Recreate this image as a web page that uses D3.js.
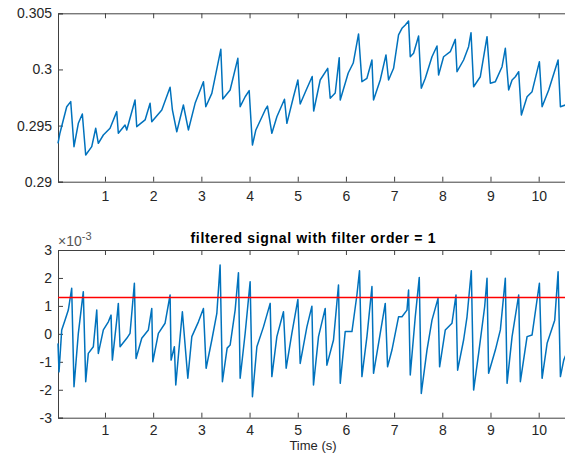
<!DOCTYPE html>
<html>
<head>
<meta charset="utf-8">
<script src="https://cdn.jsdelivr.net/npm/d3@7"></script>
<style>
  body { margin: 0; background: #fff; }
  svg text { font-family: "Liberation Sans", Arial, sans-serif; fill: #262626; }
  .axis path, .axis line { stroke: #404040; }
</style>
</head>
<body>
<div id="chart"></div>
<script>
// raw signal (top panel)
var rawTime = [0.025, 0.066, 0.206, 0.289, 0.357, 0.447, 0.530, 0.600, 0.725, 0.808, 0.862, 0.966, 1.105, 1.244, 1.277, 1.416, 1.452, 1.624, 1.659, 1.832,
  1.936, 1.971, 2.179, 2.351, 2.399, 2.490, 2.627, 2.731, 2.870, 3.043, 3.092, 3.217, 3.404, 3.445, 3.597, 3.757, 3.805, 3.909, 3.992, 4.060,
  4.131, 4.324, 4.372, 4.463, 4.567, 4.725, 4.775, 4.912, 5.003, 5.051, 5.176, 5.300, 5.331, 5.466, 5.622, 5.674, 5.778, 5.861, 5.882, 6.048,
  6.152, 6.262, 6.332, 6.436, 6.540, 6.573, 6.712, 6.831, 6.885, 6.989, 7.092, 7.163, 7.232, 7.300, 7.335, 7.404, 7.508, 7.564, 7.647, 7.786,
  7.890, 7.923, 8.027, 8.166, 8.270, 8.305, 8.442, 8.546, 8.596, 8.650, 8.789, 8.928, 8.997, 9.101, 9.240, 9.308, 9.377, 9.448, 9.516, 9.585,
  9.641, 9.759, 9.863, 10.015, 10.071, 10.208, 10.403, 10.451, 10.555, 10.65];
var rawValue = [0.29342, 0.29434, 0.29668, 0.29713, 0.29312, 0.29520, 0.29603, 0.29238, 0.29312, 0.29476, 0.29342, 0.29416, 0.29476, 0.29624, 0.29431, 0.29505, 0.29461, 0.29728, 0.29490, 0.29550,
  0.29698, 0.29534, 0.29639, 0.29841, 0.29639, 0.29445, 0.29683, 0.29461, 0.29698, 0.29891, 0.29668, 0.29787, 0.30179, 0.29737, 0.29817, 0.30099, 0.29668, 0.29757, 0.29811, 0.29327,
  0.29461, 0.29639, 0.29674, 0.29431, 0.29579, 0.29734, 0.29520, 0.29757, 0.29906, 0.29692, 0.29817, 0.29937, 0.29630, 0.29906, 0.30010, 0.29743, 0.29790, 0.30105, 0.29728, 0.29968,
  0.30057, 0.30316, 0.29891, 0.29921, 0.30084, 0.29728, 0.29906, 0.30129, 0.29906, 0.30010, 0.30307, 0.30366, 0.30396, 0.30431, 0.30113, 0.30144, 0.30298, 0.29832, 0.29921, 0.30113,
  0.30209, 0.29950, 0.30113, 0.30158, 0.30268, 0.29980, 0.30084, 0.30203, 0.30327, 0.29846, 0.29935, 0.30292, 0.29877, 0.29891, 0.30024, 0.30188, 0.29817, 0.29906, 0.29935, 0.29980,
  0.29594, 0.29757, 0.29802, 0.30069, 0.29668, 0.29817, 0.30084, 0.29668, 0.29683, 0.29700];

// filtered signal (bottom panel), in units of 1e-3
var filtTime = [0.025, 0.046, 0.102, 0.170, 0.239, 0.309, 0.357, 0.447, 0.550, 0.600, 0.654, 0.758, 0.829, 0.862, 0.966, 1.070, 1.126, 1.153, 1.244, 1.277,
  1.313, 1.452, 1.520, 1.610, 1.645, 1.763, 1.900, 1.971, 1.992, 2.108, 2.247, 2.351, 2.372, 2.440, 2.469, 2.559, 2.606, 2.719, 2.802, 2.939,
  3.043, 3.099, 3.217, 3.321, 3.389, 3.437, 3.535, 3.597, 3.701, 3.770, 3.805, 3.909, 4.012, 4.060, 4.152, 4.289, 4.428, 4.463, 4.567, 4.704,
  4.760, 4.878, 5.003, 5.051, 5.190, 5.294, 5.327, 5.431, 5.570, 5.605, 5.742, 5.846, 5.882, 5.985, 6.125, 6.228, 6.282, 6.332, 6.436, 6.540,
  6.573, 6.712, 6.816, 6.864, 6.955, 7.092, 7.163, 7.267, 7.300, 7.335, 7.439, 7.522, 7.564, 7.682, 7.786, 7.911, 7.944, 8.062, 8.201, 8.284,
  8.318, 8.442, 8.513, 8.602, 8.650, 8.754, 8.879, 8.928, 8.961, 9.101, 9.205, 9.308, 9.344, 9.448, 9.585, 9.620, 9.759, 9.863, 10.015, 10.071,
  10.175, 10.333, 10.403, 10.451, 10.520, 10.65];
var filtValue = [-0.34, -1.36, 0.14, 0.49, 0.85, 1.63, -1.89, 0.02, 1.51, -1.71, -0.70, -0.46, 0.85, -0.70, 0.14, 0.43, 0.67, -0.94, 0.49, 1.09,
  -0.46, -0.16, 0.02, 1.81, -0.88, -0.16, 0.14, 0.91, -1.00, 0.02, 0.38, 1.39, -0.94, -0.46, -1.83, -0.10, 0.79, -1.59, -0.10, 0.43,
  0.91, -1.23, -0.22, 0.73, 2.46, -1.71, -0.51, -0.40, 0.85, 2.19, -1.59, 0.02, 1.86, -2.25, -0.46, 0.25, 1.09, -1.53, -0.10, 0.79,
  -1.23, 0.02, 1.23, -1.06, 0.25, 0.99, -1.83, -0.10, 0.91, -1.12, -0.22, 1.75, -1.77, 0.08, 0.08, 1.39, 2.26, -1.53, -0.10, 1.69,
  -1.41, 0.02, 1.09, -1.18, -0.58, 0.61, 0.61, 0.85, 1.57, -1.47, 0.61, 2.02, -2.13, -0.58, 0.49, 1.27, -1.18, 0.14, 0.38, 1.39,
  -1.30, -0.22, 0.61, 2.26, -2.01, -0.70, 0.97, 1.99, -1.41, -0.58, 0.14, 1.99, -1.77, -0.10, 1.39, -1.71, -0.10, -0.04, 1.81, -1.59,
  -0.34, 0.49, 2.22, -1.53, -0.94, -0.40];
var thresholdLevel = 1.3;

var xTicks = [1, 2, 3, 4, 5, 6, 7, 8, 9, 10];
var rawTicks = [0.29, 0.295, 0.3, 0.305];
var rawTickLabels = ["0.29", "0.295", "0.3", "0.305"];
var filtTicks = [-3, -2, -1, 0, 1, 2, 3];

var svgWidth = 565;
var svgHeight = 454;
var left = 58, right = 570;

var svg = d3.select("#chart").append("svg")
  .attr("width", svgWidth)
  .attr("height", svgHeight);

var x = d3.scaleLinear().domain([0.025, 10.65]).range([left, right]);
var yTop = d3.scaleLinear().domain([0.29, 0.305]).range([181.7, 13.3]);
var yBot = d3.scaleLinear().domain([-3, 3]).range([417.7, 250]);

function drawPanel(y, yTicks, yLabels, top, bottom, pad) {
  var g = svg.append("g");

  g.append("g").attr("class", "axis")
    .attr("transform", "translate(0," + bottom + ")")
    .call(d3.axisBottom(x).tickValues(xTicks).tickSize(-5).tickPadding(pad).tickFormat(d3.format("d")));
  g.append("g").attr("class", "axis")
    .attr("transform", "translate(0," + top + ")")
    .call(d3.axisTop(x).tickValues(xTicks).tickSize(-5).tickFormat(""));
  g.append("g").attr("class", "axis")
    .attr("transform", "translate(" + left + ",0)")
    .call(d3.axisLeft(y).tickValues(yTicks).tickSize(-5).tickPadding(6)
      .tickFormat(function(d, i) { return yLabels ? yLabels[i] : d; }));

  g.selectAll(".axis text").style("font-size", "14px").style("font-family", null);
  return g;
}

drawPanel(yTop, rawTicks, rawTickLabels, 13.3, 181.7, 9);
drawPanel(yBot, filtTicks, null, 250, 417.7, 7);

// lines
var rawData = rawTime.map(function(t, i) { return [t, rawValue[i]]; });
var filtData = filtTime.map(function(t, i) { return [t, filtValue[i]]; });

svg.append("path")
  .datum(rawData)
  .attr("fill", "none")
  .attr("stroke", "#0072BD")
  .attr("stroke-width", 1.5)
  .attr("stroke-linejoin", "round")
  .attr("d", d3.line().x(function(d) { return x(d[0]); }).y(function(d) { return yTop(d[1]); }));

svg.append("path")
  .datum(filtData)
  .attr("fill", "none")
  .attr("stroke", "#0072BD")
  .attr("stroke-width", 1.5)
  .attr("stroke-linejoin", "round")
  .attr("d", d3.line().x(function(d) { return x(d[0]); }).y(function(d) { return yBot(d[1]); }));

// threshold
svg.append("line")
  .attr("x1", x(0.025)).attr("x2", x(10.65))
  .attr("y1", yBot(thresholdLevel)).attr("y2", yBot(thresholdLevel))
  .attr("stroke", "#FF0000")
  .attr("stroke-width", 1.3);

// exponent label
var expo = svg.append("text")
  .attr("x", 58).attr("y", 246)
  .style("font-size", "14px")
  .style("fill", "#555");
expo.append("tspan").text("\u00d710");
expo.append("tspan").attr("dy", -6).style("font-size", "11px").text("-3");

// title
svg.append("text")
  .attr("x", 313).attr("y", 243)
  .attr("text-anchor", "middle")
  .attr("textLength", 245)
  .attr("lengthAdjust", "spacing")
  .style("font-size", "14px")
  .style("font-weight", "bold")
  .style("fill", "#000")
  .text("filtered signal with filter order = 1");

// x label
svg.append("text")
  .attr("x", 313).attr("y", 450)
  .attr("text-anchor", "middle")
  .style("font-size", "13px")
  .text("Time (s)");
</script>
</body>
</html>
